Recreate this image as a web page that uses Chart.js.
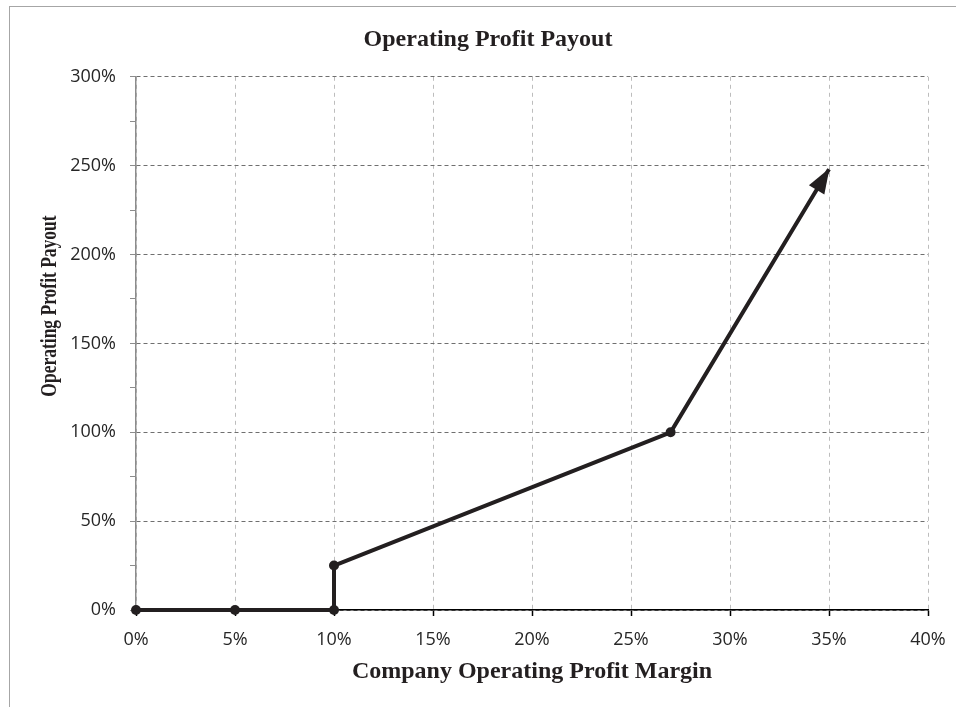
<!DOCTYPE html>
<html>
<head>
<meta charset="utf-8">
<script src="https://cdn.jsdelivr.net/npm/chart.js@4.4.1/dist/chart.umd.min.js"></script>
<style>
    body { margin: 0; background: #fff; }
    #wrap { position: relative; width: 956px; height: 707px; }
    #frame { position: absolute; left: 9px; top: 6px; right: 0; bottom: 0;
             border-top: 1.5px solid #a6a6a6; border-left: 1.5px solid #a6a6a6; }
    canvas { position: absolute; left: 0; top: 0; }
</style>
</head>
<body>
<div id="wrap">
    <div id="frame"></div>
    <canvas id="payoutCanvas" width="956" height="707"></canvas>
</div>
<script>
// chart data (percent)
const marginValues = [0, 5, 10, 10, 27, 35];
const payoutValues = [0, 0, 0, 25, 100, 248];
const chartTitle = 'Operating Profit Payout';
const xAxisTitle = 'Company Operating Profit Margin';
const yAxisTitle = 'Operating Profit Payout';

const lineColor = '#231f20';
const tickTextColor = '#262626';
const tickFont = { family: 'Open Sans', size: 18 };
const serifBold = { family: 'Liberation Serif', size: 24, weight: 'bold' };

const points = marginValues.map((m, i) => ({ x: m, y: payoutValues[i] }));

// arrowhead at the last point, plus the squeezed vertical axis title
const arrowAndTitlePlugin = {
    id: 'arrowAndTitle',
    afterDatasetsDraw(chart) {
        const meta = chart.getDatasetMeta(0);
        const n = meta.data.length;
        const tip = meta.data[n - 1];
        const prev = meta.data[n - 2];
        const angle = Math.atan2(tip.y - prev.y, tip.x - prev.x);
        const len = 24, half = 9;
        const ctx = chart.ctx;
        ctx.save();
        ctx.translate(tip.x, tip.y);
        ctx.rotate(angle);
        ctx.beginPath();
        ctx.moveTo(1, 0);
        ctx.lineTo(-len, -half);
        ctx.lineTo(-len, half);
        ctx.closePath();
        ctx.fillStyle = lineColor;
        ctx.fill();
        ctx.restore();
    },
    afterDraw(chart) {
        const ctx = chart.ctx;
        ctx.save();
        ctx.translate(50, 306);
        ctx.rotate(-Math.PI / 2);
        ctx.scale(0.76, 1);
        ctx.font = 'bold 23px "Liberation Serif"';
        ctx.fillStyle = lineColor;
        ctx.textAlign = 'center';
        ctx.textBaseline = 'middle';
        ctx.fillText(yAxisTitle, 0, 0);
        ctx.restore();
    }
};

const ctx = document.getElementById('payoutCanvas').getContext('2d');

new Chart(ctx, {
    type: 'line',
    data: {
        datasets: [{
            data: points,
            borderColor: lineColor,
            backgroundColor: lineColor,
            borderWidth: 4,
            pointRadius: points.map((p, i) => i === points.length - 1 ? 0 : 5),
            pointBorderWidth: 0,
            pointBackgroundColor: lineColor,
            tension: 0,
            fill: false,
            clip: false
        }]
    },
    options: {
        responsive: false,
        animation: false,
        events: [],
        layout: { padding: { left: 48, right: 28, top: 0, bottom: 0 } },
        plugins: {
            legend: { display: false },
            tooltip: { enabled: false },
            title: {
                display: true,
                text: chartTitle,
                color: lineColor,
                font: serifBold,
                padding: { top: 25, bottom: 23 }
            }
        },
        scales: {
            x: {
                type: 'linear',
                min: 0,
                max: 40,
                ticks: {
                    stepSize: 5,
                    color: tickTextColor,
                    font: tickFont,
                    padding: 13,
                    maxRotation: 0,
                    callback: v => v + '%'
                },
                grid: {
                    color: '#bdbdbd',
                    lineWidth: 1,
                    tickColor: '#000',
                    tickLength: 6,
                    tickWidth: 1.5,
                    tickBorderDash: []
                },
                border: { color: '#000', width: 1.5, dash: [4, 4] },
                title: {
                    display: true,
                    text: xAxisTitle,
                    color: lineColor,
                    font: serifBold,
                    padding: { top: 0, bottom: 21 }
                },
                afterFit(scale) {
                    scale.height = 97;
                    scale.paddingLeft = 0;
                    scale.paddingRight = 0;
                }
            },
            y: {
                type: 'linear',
                min: 0,
                max: 300,
                ticks: {
                    stepSize: 25,
                    color: tickTextColor,
                    font: tickFont,
                    padding: 14,
                    autoSkip: false,
                    callback: v => (v % 50 === 0 ? v + '%' : '')
                },
                grid: {
                    color: c => (c.tick && c.tick.value % 50 === 0 ? '#6f6f6f' : 'rgba(0,0,0,0)'),
                    lineWidth: 1,
                    tickColor: '#8c8c8c',
                    tickLength: 6,
                    tickWidth: 1,
                    tickBorderDash: []
                },
                border: { color: '#8c8c8c', width: 1.5, dash: [4, 3] },
                afterFit(scale) { scale.width = 88; }
            }
        }
    },
    plugins: [arrowAndTitlePlugin]
});
</script>
</body>
</html>
